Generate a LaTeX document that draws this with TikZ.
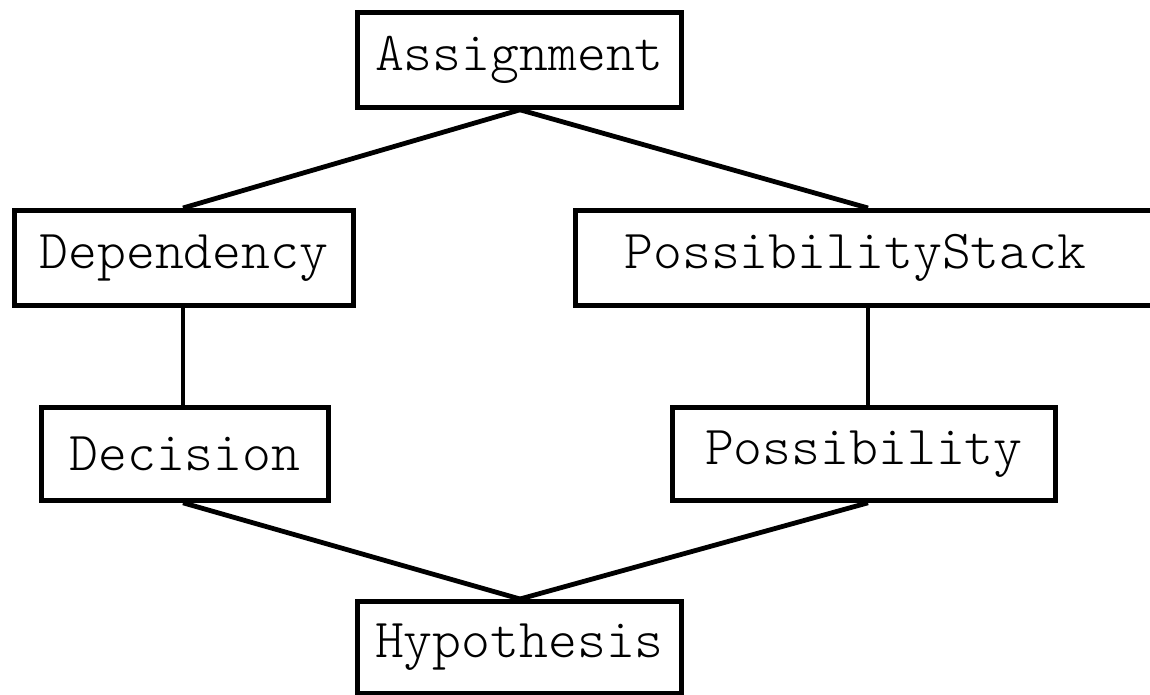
\documentclass[tikz,border=0pt]{standalone}
\begin{document}
\begin{tikzpicture}[x=1pt,y=-1pt,
  box/.style={draw, line width=4.8pt, rectangle, anchor=north west, inner sep=0pt,
    font=\ttfamily\fontseries{l}\fontsize{55}{60}\selectfont},
  link/.style={line width=4.8pt}]
\useasboundingbox (0,0) rectangle (1150,694);
% class boxes
\node[box, minimum width=324pt, minimum height=95pt] (asg) at (355,10) {Assignment};
\node[box, minimum width=339pt, minimum height=95pt] (dep) at (12,208) {Dependency};
\node[box, minimum width=587pt, minimum height=95pt] (ps)  at (573,208) {\hspace*{-27pt}PossibilityStack};
\node[box, minimum width=287pt, minimum height=93pt] (dec) at (39,405) {Decision};
\node[box, minimum width=383pt, minimum height=93pt] (pos) at (670,405) {Possibility};
\node[box, minimum width=324pt, minimum height=92pt] (hyp) at (355,599) {Hypothesis};
% columns where the links meet the boxes
\coordinate (xL) at (183,0);
\coordinate (xM) at (520,0);
\coordinate (xR) at (868,0);
% links
\draw[link] (asg.south -| xM) -- (dep.north -| xL);
\draw[link] (asg.south -| xM) -- (ps.north -| xR);
\draw[link] (dep.south -| xL) -- (dec.north -| xL);
\draw[link] (ps.south -| xR) -- (pos.north -| xR);
\draw[link] (dec.south -| xL) -- (hyp.north -| xM);
\draw[link] (pos.south -| xR) -- (hyp.north -| xM);
\end{tikzpicture}
\end{document}
